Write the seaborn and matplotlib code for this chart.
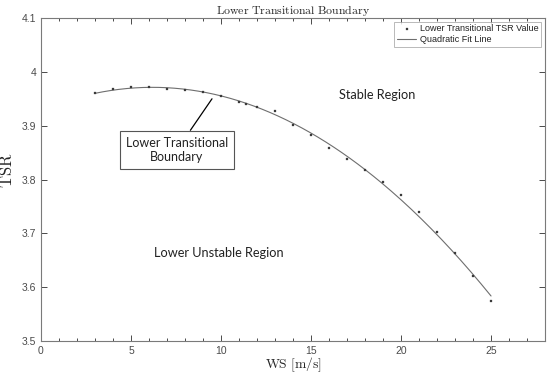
import numpy as np
import pandas as pd
import matplotlib
matplotlib.use("Agg")
import matplotlib.pyplot as plt
import seaborn as sns
from matplotlib.ticker import MultipleLocator

ws = [3, 4, 5, 6, 7, 8, 9, 10, 11, 11.4, 12, 13, 14, 15, 16, 17, 18, 19, 20, 21, 22, 23, 24, 25]
tsr = [3.961, 3.968, 3.971, 3.971, 3.969, 3.966, 3.963, 3.955, 3.944, 3.941, 3.934, 3.927,
       3.902, 3.883, 3.859, 3.838, 3.817, 3.795, 3.771, 3.740, 3.703, 3.663, 3.620, 3.575]

title = "Lower Transitional Boundary"
xlabel = "WS [m/s]"
ylabel = "TSR"
legend_points = "Lower Transitional TSR Value"
legend_line = "Quadratic Fit Line"

sns.set_theme(style="white")
plt.rcParams["mathtext.fontset"] = "cm"
plt.rcParams["font.family"] = ["Liberation Sans", "DejaVu Sans"]

df = pd.DataFrame({"WS": ws, "TSR": tsr})
coef = np.polyfit(df["WS"], df["TSR"], 2)
xf = np.linspace(min(ws), max(ws), 200)
fit = pd.DataFrame({"WS": xf, "TSR": np.polyval(coef, xf)})

fig = plt.figure(figsize=(5.5, 3.76), dpi=100)
ax = fig.add_axes([0.0745, 0.093, 0.9165, 0.859])

sns.scatterplot(data=df, x="WS", y="TSR", ax=ax, marker="s", s=4, color="#3a3a3a",
                edgecolor="#3a3a3a", linewidth=0.2, label=legend_points, zorder=3)
sns.lineplot(data=fit, x="WS", y="TSR", ax=ax, color="#6e6e6e", linewidth=0.8,
             label=legend_line, zorder=2)

ax.set_xlim(0, 28)
ax.set_ylim(3.5, 4.1)
ax.xaxis.set_major_locator(MultipleLocator(5))
ax.xaxis.set_minor_locator(MultipleLocator(1))
ax.set_yticks([3.5, 3.6, 3.7, 3.8, 3.9, 4.0, 4.1])
ax.set_yticklabels(["3.5", "3.6", "3.7", "3.8", "3.9", "4", "4.1"])
ax.tick_params(axis="both", which="both", direction="in", top=True, right=True,
               bottom=True, left=True, colors="#4a4a4a", labelcolor="#4a4a4a",
               labelsize=7.5, width=0.7)
ax.tick_params(which="major", length=4.5)
ax.tick_params(axis="x", which="minor", length=2.5, width=0.7, top=True, bottom=True)
for sp in ax.spines.values():
    sp.set_color("#7a7a7a")
    sp.set_linewidth(0.8)

ax.set_title(r"$\mathrm{Lower\ Transitional\ Boundary}$", fontsize=8.5, pad=3)
ax.set_xlabel(r"$\mathrm{WS\ [m/s]}$", fontsize=9.8, labelpad=0)
ax.set_ylabel(r"$\mathrm{TSR}$", fontsize=12, labelpad=3)
ax.yaxis.set_label_coords(-0.052, 0.53)

leg = ax.legend(loc="upper right", fontsize=6.5, frameon=True, fancybox=False,
                borderpad=0.3, handlelength=2.2, handletextpad=0.4,
                labelspacing=0.2, borderaxespad=0.4, markerscale=0.8)
leg.get_frame().set_edgecolor("#9a9a9a")
leg.get_frame().set_linewidth(0.6)
for t in leg.get_texts():
    t.set_color("#222222")

ax.text(18.7, 3.957, "Stable Region", fontsize=9.2, family="Lato", ha="center", va="center", color="#222222")
ax.text(9.9, 3.664, "Lower Unstable Region", fontsize=9.2, family="Lato", ha="center", va="center", color="#222222")
ax.annotate("Lower Transitional\nBoundary", xy=(9.5, 3.950), xytext=(7.55, 3.855),
            fontsize=9, family="Lato", ha="center", va="center", color="#222222",
            bbox=dict(boxstyle="square,pad=0.5", fc="white", ec="#555555", lw=0.8),
            arrowprops=dict(arrowstyle="-", color="black", lw=0.9, shrinkA=0, shrinkB=0))

fig.savefig("out.png", dpi=100)
